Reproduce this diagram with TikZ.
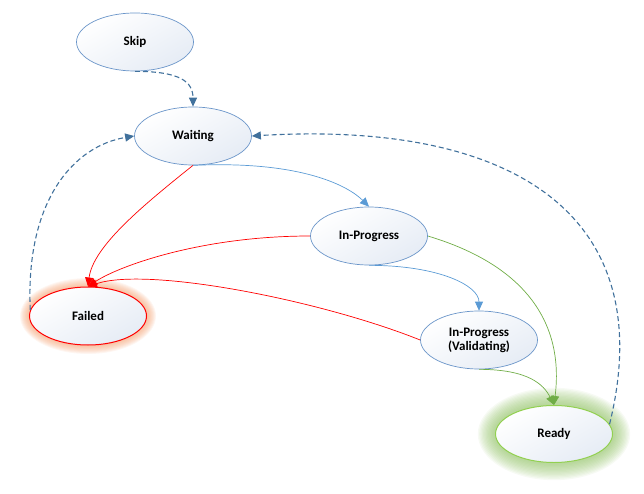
\documentclass[tikz,border=0pt]{standalone}
\usepackage{fontspec}
\setmainfont{Carlito}
\usetikzlibrary{shapes.geometric,arrows.meta}
\definecolor{nodeborder}{HTML}{6A95C9}
\definecolor{nodefill}{HTML}{E6ECF5}
\definecolor{dashblue}{HTML}{41719C}
\definecolor{solidblue}{HTML}{5B9BD5}
\definecolor{redline}{HTML}{FF0000}
\definecolor{greenline}{HTML}{70AD47}
\definecolor{readyborder}{HTML}{92D050}
\definecolor{failglow}{HTML}{F4A070}
\definecolor{readyglow}{HTML}{8DBF60}
\tikzset{
  state/.style={ellipse, draw=nodeborder, line width=0.7pt, minimum width=117pt, minimum height=58pt, inner sep=0pt,
    top color=white, bottom color=nodefill, shading angle=30, font=\fontsize{13}{14}\selectfont\bfseries, align=center},
  dasharrow/.style={draw=dashblue, line width=1.1pt, dash pattern=on 5pt off 3pt, -{Triangle[length=9pt,width=8pt]}},
  bluearrow/.style={draw=solidblue, line width=0.7pt, -{Triangle[length=9pt,width=8pt]}},
  redarrow/.style={draw=redline, line width=0.7pt, -{Triangle[length=9pt,width=8pt]}},
  greenarrow/.style={draw=greenline, line width=0.7pt, -{Triangle[length=9pt,width=8pt]}},
}
\begin{document}
\begin{tikzpicture}[x=1pt,y=-1pt]
\useasboundingbox (0,0) rectangle (644,494);
% glows
\foreach \i in {1,...,10}{
  \fill[failglow, opacity=0.09] (88,316) ellipse ({59+\i*0.9} and {29+\i*0.9});
}
\foreach \i in {1,...,14}{
  \fill[readyglow, opacity=0.07] (554,434) ellipse ({58+\i*1.3} and {28+\i*1.3});
}
\node[state] (skip) at (135,42) {Skip};
\node[state] (waiting) at (193,136) {Waiting};
\node[state] (inprog) at (369,236) {In-Progress};
\node[state, draw=redline, line width=1pt] (failed) at (88,316) {Failed};
\node[state] (valid) at (479,340) {In-Progress\\(Validating)};
\node[state, draw=readyborder, line width=1pt, minimum height=57pt] (ready) at (554,434) {Ready};

% dashed
\draw[dasharrow] (skip.south) .. controls +(45,0) and +(0,-25) .. (waiting.north);
\draw[dasharrow] (failed.174) .. controls +(-5,-110) and +(-60,10) .. (waiting.west);
\draw[dasharrow] (ready.10) .. controls (660,220) and (520,120) .. (waiting.east);
% blue
\draw[bluearrow] (waiting.south) .. controls +(110,-5) and +(-20,-20) .. (inprog.north);
\draw[bluearrow] (inprog.south) .. controls +(70,0) and +(0,-25) .. (valid.north);
% red
\draw[redarrow] (waiting.south) .. controls +(-50,40) and +(5,-40) .. (failed.north);
\draw[redarrow] (inprog.west) .. controls +(-110,0) and +(30,-20) .. (failed.north);
\draw[redarrow] (valid.west) .. controls +(-100,-40) and +(60,-20) .. (failed.north);
% green
\draw[greenarrow] (inprog.east) .. controls +(100,30) and +(10,-80) .. (ready.north);
\draw[greenarrow] (valid.south) .. controls +(50,0) and +(-10,-20) .. (ready.north);
\end{tikzpicture}
\end{document}
